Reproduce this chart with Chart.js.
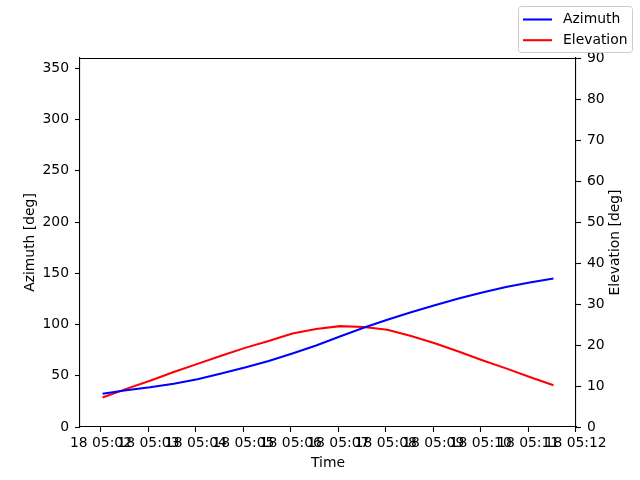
<!DOCTYPE html>
<html>
<head>
<meta charset="utf-8">
<script src="https://cdn.jsdelivr.net/npm/chart.js@4.4.1/dist/chart.umd.min.js"></script>
<style>
  html, body { margin: 0; padding: 0; background: #fff; }
  #wrap { width: 640px; height: 480px; }
</style>
</head>
<body>
<div id="wrap"><canvas id="lineChart" width="640" height="480"></canvas></div>
<script>
// sample times (hh:mm:ss), day 18
var timeLabels = [
  "05:02:02", "05:02:32", "05:03:02", "05:03:32", "05:04:02",
  "05:04:32", "05:05:02", "05:05:32", "05:06:02", "05:06:32",
  "05:07:02", "05:07:32", "05:08:02", "05:08:32", "05:09:02",
  "05:09:32", "05:10:02", "05:10:32", "05:11:02", "05:11:32"
];
var azimuth = [
  32.5, 35.8, 38.7, 42.2, 46.6, 52.2, 58.0, 64.5, 71.8, 79.6,
  88.2, 96.8, 104.6, 112.0, 118.8, 125.3, 131.3, 136.5, 141.0, 144.9
];
var elevation = [
  7.2, 9.3, 11.3, 13.4, 15.4, 17.4, 19.3, 21.0, 22.8, 23.9,
  24.6, 24.4, 23.7, 22.2, 20.4, 18.4, 16.3, 14.3, 12.2, 10.2
];
var tickTimes = ["05:02", "05:03", "05:04", "05:05", "05:06", "05:07",
                 "05:08", "05:09", "05:10", "05:11", "05:12"];
var azTicks = [0, 50, 100, 150, 200, 250, 300, 350];
var elTicks = [0, 10, 20, 30, 40, 50, 60, 70, 80, 90];

// seconds after midnight
function toSec(s) {
  var p = s.split(":").map(Number);
  return p[0] * 3600 + p[1] * 60 + (p[2] || 0);
}
var xs = timeLabels.map(toSec);
var tickSecs = tickTimes.map(toSec);
var span = xs[xs.length - 1] - xs[0];
var xMin = xs[0] - 0.05 * span;
var xMax = xs[xs.length - 1] + 0.05 * span;

var FONT = "'DejaVu Sans', sans-serif";
var FS = 13.9;

Chart.defaults.font.family = FONT;
Chart.defaults.font.size = FS;
Chart.defaults.color = "#000";

function fmtTick(v) {
  var h = Math.floor(v / 3600);
  var m = Math.round((v - h * 3600) / 60);
  return "18 " + String(h).padStart(2, "0") + ":" + String(m).padStart(2, "0");
}

var frameAndLegend = {
  id: "frameAndLegend",
  afterDatasetsDraw: function (chart) {
    // top spine (the other three come from the scales)
    var ctx = chart.ctx;
    var a = chart.chartArea;
    var y = Math.round(a.top) + 0.5;
    ctx.save();
    ctx.strokeStyle = "#000";
    ctx.lineWidth = 1;
    ctx.beginPath();
    ctx.moveTo(a.left, y);
    ctx.lineTo(a.right, y);
    ctx.stroke();
    ctx.restore();
  },
  afterDraw: function (chart) {
    var ctx = chart.ctx;
    var a = chart.chartArea;
    ctx.save();
    // right axis title, reading upward like the left one
    ctx.font = FS + "px " + FONT;
    ctx.fillStyle = "#000";
    ctx.textAlign = "center";
    ctx.textBaseline = "middle";
    ctx.translate(615, (a.top + a.bottom) / 2);
    ctx.rotate(-Math.PI / 2);
    ctx.fillText("Elevation [deg]", 0, 0);
    ctx.restore();

    // legend box, figure top right
    ctx.save();
    var bx = 518.5, by = 6.5, bw = 114, bh = 46, r = 3;
    ctx.beginPath();
    ctx.moveTo(bx + r, by);
    ctx.lineTo(bx + bw - r, by);
    ctx.quadraticCurveTo(bx + bw, by, bx + bw, by + r);
    ctx.lineTo(bx + bw, by + bh - r);
    ctx.quadraticCurveTo(bx + bw, by + bh, bx + bw - r, by + bh);
    ctx.lineTo(bx + r, by + bh);
    ctx.quadraticCurveTo(bx, by + bh, bx, by + bh - r);
    ctx.lineTo(bx, by + r);
    ctx.quadraticCurveTo(bx, by, bx + r, by);
    ctx.closePath();
    ctx.fillStyle = "rgba(255,255,255,0.8)";
    ctx.fill();
    ctx.strokeStyle = "#cccccc";
    ctx.lineWidth = 1;
    ctx.stroke();
    ctx.font = FS + "px " + FONT;
    ctx.textBaseline = "middle";
    ctx.textAlign = "left";
    chart.data.datasets.forEach(function (ds, i) {
      var y = 19.5 + i * 20.7;
      ctx.strokeStyle = ds.borderColor;
      ctx.lineWidth = 2.08;
      ctx.beginPath();
      ctx.moveTo(523, y);
      ctx.lineTo(552, y);
      ctx.stroke();
      ctx.fillStyle = "#000";
      ctx.fillText(ds.label, 563, y);
    });
    ctx.restore();
  }
};

var ctx = document.getElementById("lineChart").getContext("2d");

var chartData = {
  datasets: [
    {
      label: "Azimuth",
      borderColor: "#0000ff",
      backgroundColor: "#0000ff",
      borderWidth: 2.08,
      pointRadius: 0,
      fill: false,
      tension: 0,
      yAxisID: "yAz",
      data: xs.map(function (x, i) { return { x: x, y: azimuth[i] }; })
    },
    {
      label: "Elevation",
      borderColor: "#ff0000",
      backgroundColor: "#ff0000",
      borderWidth: 2.08,
      pointRadius: 0,
      fill: false,
      tension: 0,
      yAxisID: "yEl",
      data: xs.map(function (x, i) { return { x: x, y: elevation[i] }; })
    }
  ]
};

var axisGrid = {
  display: true,
  drawOnChartArea: false,
  drawTicks: true,
  tickLength: 5,
  tickWidth: 1.1,
  color: "#000"
};

var chartOptions = {
  responsive: false,
  animation: false,
  layout: { padding: { top: 58, left: 0, right: 0, bottom: 0 } },
  plugins: {
    legend: { display: false },
    tooltip: { enabled: false }
  },
  scales: {
    x: {
      type: "linear",
      min: xMin,
      max: xMax,
      grid: axisGrid,
      border: { display: true, color: "#000", width: 1.1 },
      afterBuildTicks: function (scale) {
        scale.ticks = tickSecs.map(function (v) { return { value: v }; });
      },
      afterFit: function (scale) { scale.height = 53; },
      ticks: {
        autoSkip: false,
        maxRotation: 0,
        minRotation: 0,
        padding: 3,
        callback: function (v) { return fmtTick(v); }
      },
      title: { display: true, text: "Time", padding: { top: 0, bottom: 8 } }
    },
    yAz: {
      type: "linear",
      position: "left",
      min: 0,
      max: 360,
      grid: axisGrid,
      border: { display: true, color: "#000", width: 1.1 },
      afterBuildTicks: function (scale) {
        scale.ticks = azTicks.map(function (v) { return { value: v }; });
      },
      afterFit: function (scale) { scale.width = 80; },
      ticks: { padding: 6 },
      title: { display: true, text: "Azimuth [deg]", padding: { top: 22, bottom: 0 } }
    },
    yEl: {
      type: "linear",
      position: "right",
      min: 0,
      max: 90,
      grid: axisGrid,
      border: { display: true, color: "#000", width: 1.1 },
      afterBuildTicks: function (scale) {
        scale.ticks = elTicks.map(function (v) { return { value: v }; });
      },
      afterFit: function (scale) { scale.width = 64; },
      ticks: { padding: 6 },
      title: { display: false }
    }
  }
};

var myChart = new Chart(ctx, {
  type: "line",
  data: chartData,
  options: chartOptions,
  plugins: [frameAndLegend]
});
</script>
</body>
</html>
